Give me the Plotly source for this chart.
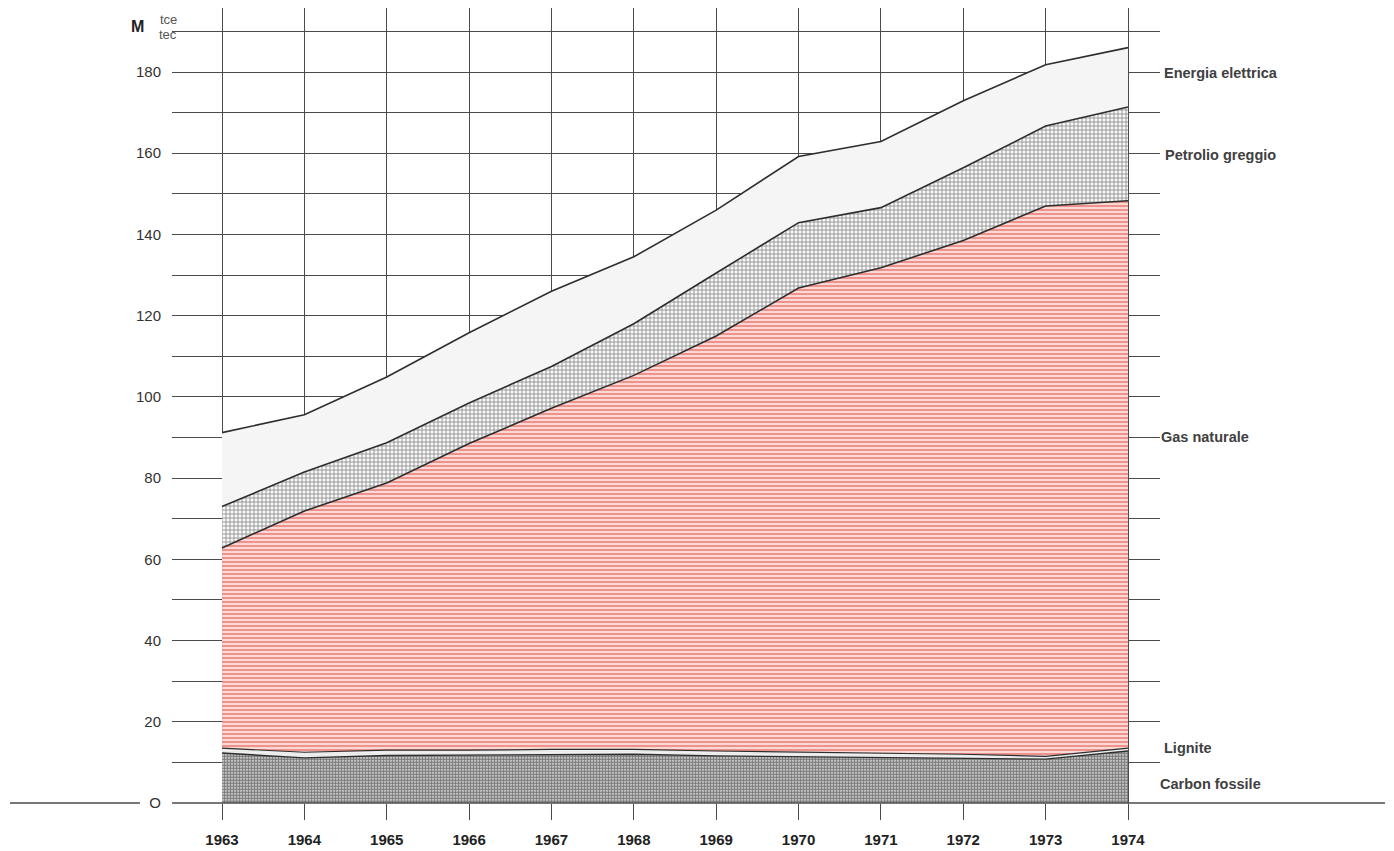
import plotly.graph_objects as go

years = [1963, 1964, 1965, 1966, 1967, 1968, 1969, 1970, 1971, 1972, 1973, 1974]
carbon_fossile = [12.3, 11.1, 11.7, 11.8, 12.0, 12.0, 11.6, 11.4, 11.3, 11.1, 10.8, 12.8]
lignite = [1.2, 1.4, 1.3, 1.2, 1.2, 1.2, 1.2, 1.1, 1.0, 0.9, 0.7, 0.7]
gas_naturale = [49.3, 59.4, 65.8, 75.5, 84.0, 92.1, 102.2, 114.3, 119.5, 126.5, 135.5, 134.8]
petrolio_greggio = [10.2, 9.6, 9.9, 10.0, 10.3, 12.7, 15.5, 16.1, 14.8, 17.9, 19.7, 23.1]
energia_elettrica = [18.2, 14.1, 16.2, 17.3, 18.5, 16.5, 15.5, 16.3, 16.3, 16.5, 15.1, 14.6]

series_names = ["Carbon fossile", "Lignite", "Gas naturale", "Petrolio greggio", "Energia elettrica"]
ytick_vals = list(range(0, 200, 10))
ytick_text = ["O" if v == 0 else (str(v) if v % 20 == 0 else "") for v in ytick_vals]

LINE = "#2e2e2e"
GRID = "#4a4a4a"
FONT = "Liberation Sans, Arial, sans-serif"

fig = go.Figure()

def add_layer(name, values, pattern, line_w=1.6, fillcolor=None):
    tr = go.Scatter(
        x=years, y=values, name=name, mode="lines", stackgroup="one",
        line=dict(color=LINE, width=line_w),
        hoverinfo="skip",
    )
    if pattern is not None:
        tr.fillpattern = pattern
    if fillcolor is not None:
        tr.fillcolor = fillcolor
    fig.add_trace(tr)

add_layer(series_names[0], carbon_fossile,
          dict(shape=".", fgcolor="#0d0d0d", bgcolor="#e8e8e8", size=3, solidity=0.66), 1.4)
add_layer(series_names[1], lignite,
          dict(shape=".", fgcolor="#555555", bgcolor="#ffffff", size=2, solidity=0.3), 1.2)
add_layer(series_names[2], gas_naturale,
          dict(shape="-", fgcolor="#e2342e", bgcolor="#fcefea", size=4, solidity=0.62), 1.6)
add_layer(series_names[3], petrolio_greggio,
          dict(shape="+", fgcolor="#2a2a2a", bgcolor="#f8f8f8", size=4, solidity=0.4), 1.6)
add_layer(series_names[4], energia_elettrica, None, 1.6, fillcolor="#f5f5f5")

# page body has an 8px offset
OFF = 8
FIG_W, FIG_H = 1394 - OFF, 851 - OFF
L, R, T, B = 172, 1160, 8, 803  # target pixel positions in the screenshot
W = R - L
H = B - T

def px_x(p):
    return (p - L) / W

def px_y(p):
    return (B - p) / H

shapes = [
    dict(type="line", xref="paper", yref="paper", x0=px_x(10), x1=px_x(140), y0=0, y1=0,
         line=dict(color=GRID, width=1.6)),
    dict(type="line", xref="paper", yref="paper", x0=0, x1=px_x(1385), y0=0, y1=0,
         line=dict(color=GRID, width=1.6)),
]

label_font = dict(family=FONT, size=14.5, color="#404040")
annotations = [
    dict(text="<b>Energia elettrica</b>", x=px_x(1162), y=179.8),
    dict(text="<b>Petrolio greggio</b>", x=px_x(1163), y=159.5),
    dict(text="<b>Gas naturale</b>", x=px_x(1159), y=90.2),
    dict(text="<b>Lignite</b>", x=px_x(1162), y=13.6),
    dict(text="<b>Carbon fossile</b>", x=px_x(1158), y=4.8),
]
for a in annotations:
    a.update(xref="paper", yref="y", xanchor="left", yanchor="middle", showarrow=False,
             font=label_font)

annotations += [
    dict(text="<b>M</b>", xref="paper", yref="paper", x=px_x(137), y=px_y(27),
         xanchor="center", yanchor="middle", showarrow=False,
         font=dict(family=FONT, size=16, color="#222")),
    dict(text="tce", xref="paper", yref="paper", x=px_x(168), y=px_y(20),
         xanchor="center", yanchor="middle", showarrow=False,
         font=dict(family=FONT, size=13, color="#555")),
    dict(text="tec", xref="paper", yref="paper", x=px_x(168), y=px_y(35),
         xanchor="center", yanchor="middle", showarrow=False,
         font=dict(family=FONT, size=13, color="#555")),
]

x0 = 1963 - (222 - L) / 82.36
x1 = 1974 + (R - 1128) / 82.36
y_top = (B - T) / (731.0 / 180.0)

fig.update_layout(
    width=FIG_W, height=FIG_H,
    margin=dict(l=L - OFF, r=FIG_W - (R - OFF), t=T - OFF, b=FIG_H - (B - OFF)),
    paper_bgcolor="white", plot_bgcolor="white",
    showlegend=False,
    shapes=shapes, annotations=annotations,
    xaxis=dict(range=[x0, x1], tickvals=years, ticktext=["<b>%d</b>" % y for y in years],
               showgrid=True, gridcolor=GRID, gridwidth=1,
               ticks="outside", ticklen=16, tickcolor=GRID, tickwidth=1,
               ticklabelstandoff=7,
               showline=False, zeroline=False,
               tickfont=dict(family=FONT, size=15, color="#222")),
    yaxis=dict(range=[0, y_top], tickvals=ytick_vals, ticktext=ytick_text,
               showgrid=True, gridcolor=GRID, gridwidth=1,
               ticks="", showline=False, zeroline=False,
               ticklabelstandoff=10,
               tickfont=dict(family=FONT, size=15, color="#333")),
)

fig.write_html("out.html")
